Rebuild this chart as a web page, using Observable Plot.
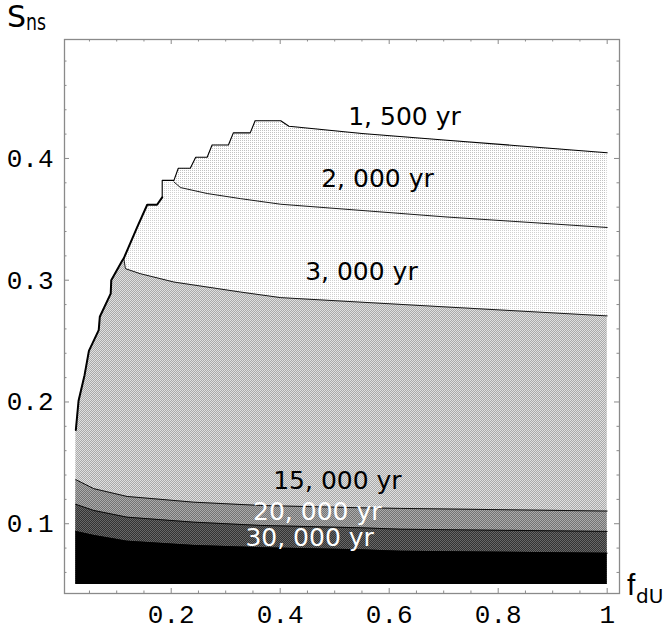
<!DOCTYPE html>
<html><head><meta charset="utf-8">
<script src="https://cdn.jsdelivr.net/npm/d3@7"></script>
<script src="https://cdn.jsdelivr.net/npm/@observablehq/plot@0.6"></script>
<style>body{margin:0;background:#fff}</style>
</head><body><div id="chart"></div>
<script>
// ---- data (f_dU, S_ns) ----
const xMin = 0.025, xMax = 1, yMin = 0.05;
// left edge of the computed region, bottom to top (incl. staircase)
const boundary = [
  [0.025, 0.177], [0.030, 0.201], [0.041, 0.222], [0.049, 0.242],
  [0.067, 0.259], [0.069, 0.270], [0.089, 0.289], [0.090, 0.300],
  [0.110, 0.316], [0.113, 0.318], [0.138, 0.344], [0.156, 0.362],
  [0.174, 0.362], [0.1835, 0.368], [0.1835, 0.382], [0.205, 0.382],
  [0.213, 0.392], [0.235, 0.392], [0.245, 0.401], [0.266, 0.401],
  [0.275, 0.411], [0.305, 0.411], [0.314, 0.421], [0.345, 0.421],
  [0.354, 0.431], [0.401, 0.431]
];
const c1500 = [[0.401, 0.431], [0.416, 0.4265], [0.55, 0.4205], [0.706, 0.415], [1.0, 0.4047]];
const c2000 = [[0.205, 0.3807], [0.217, 0.3761], [0.266, 0.3712], [0.327, 0.367], [0.401, 0.3624], [0.706, 0.3519], [1.0, 0.3433]];
const c3000 = [[0.113, 0.318], [0.116, 0.3095], [0.143, 0.3054], [0.205, 0.2985], [0.327, 0.2903], [0.401, 0.2857], [0.706, 0.278], [1.0, 0.2707]];
const c15000 = [[0.025, 0.1362], [0.058, 0.1288], [0.119, 0.1224], [0.2415, 0.1177], [0.364, 0.115], [0.547, 0.1131], [0.621, 0.1126], [1.0, 0.1104]];
const c20000 = [[0.025, 0.1159], [0.058, 0.1109], [0.119, 0.1054], [0.2415, 0.1013], [0.364, 0.0986], [0.547, 0.0967], [0.621, 0.0955], [1.0, 0.0937]];
const c30000 = [[0.025, 0.0937], [0.058, 0.0904], [0.119, 0.0857], [0.2415, 0.0822], [0.364, 0.0803], [0.547, 0.0786], [0.621, 0.0774], [1.0, 0.0758]];

const labelText = ["1, 500 yr", "2, 000 yr", "3, 000 yr", "15, 000 yr", "20, 000 yr", "30, 000 yr"];
const labelX = [0.628, 0.5785, 0.549, 0.505, 0.468, 0.454];
const labelY = [0.434, 0.383, 0.307, 0.135, 0.110, 0.0885];
const labelColor = ["black", "black", "black", "black", "white", "white"];

const xMajor = [0.2, 0.4, 0.6, 0.8, 1];
const xTickLabels = ["0.2", "0.4", "0.6", "0.8", "1"];
const xMinor = d3.range(1, 21).map(i => i * 0.05).filter(v => !xMajor.some(m => Math.abs(m - v) < 1e-9));
const yMajor = [0.1, 0.2, 0.3, 0.4];
const yTickLabels = ["0.1", "0.2", "0.3", "0.4"];
const yMinor = d3.range(3, 25).map(i => i * 0.02).filter(v => !yMajor.some(m => Math.abs(m - v) < 1e-9));

// ---- band outlines (built from the arrays above) ----
const idx2000 = boundary.findIndex(p => p[0] === 0.1835 && p[1] === 0.382);
const idx3000 = boundary.findIndex(p => p[0] === 0.113 && p[1] === 0.318);
const outer = boundary.concat(c1500.slice(1));
const ext2000 = boundary.slice(0, idx2000 + 1).concat(c2000);
const ext3000 = boundary.slice(0, idx3000 + 1).concat(c3000.slice(1));
const lowerBoundary = boundary.slice(0, boundary.findIndex(p => p[1] === 0.368) + 1);
const stairs = boundary.slice(boundary.findIndex(p => p[1] === 0.368)).concat(c1500.slice(1));

// solid fill = average tone of each halftone band; pattern = its dither
const bands = [
  {curve: outer,   fill: "#efefef", pat: "pA", a: "#ffffff", b: "#c2c2c2"},
  {curve: ext2000, fill: "#f3f3f3", pat: "pB", a: "#ffffff", b: "#d0d0d0"},
  {curve: ext3000, fill: "#c5c5c5", pat: "pC", a: "#aaaaaa", b: "#e0e0e0"},
  {curve: c15000,  fill: "#8f8f8f", pat: "pD", a: "#737373", b: "#ababab"},
  {curve: c20000,  fill: "#4d4d4d", pat: "pE", a: "#333333", b: "#676767"},
  {curve: c30000,  fill: "#000000", pat: null}
];

const X = d => d[0], Y = d => d[1];
const tickColor = "#8a8a8a";
const innerW = 665 - 64 - 46, innerH = 635 - 39 - 42;

const chart = Plot.plot({
  width: 665, height: 635,
  marginLeft: 64, marginRight: 46, marginTop: 39, marginBottom: 42,
  x: {domain: [0.0042, 1.0226], axis: null},
  y: {domain: [0.0427, 0.4977], axis: null},
  style: {background: "white"},
  marks: [
    ...bands.map(b => Plot.areaY(b.curve, {x: X, y1: yMin, y2: Y, fill: b.fill, curve: "linear"})),
    ...[c2000, c3000, c15000, c20000, c30000].map(c => Plot.line(c, {x: X, y: Y, stroke: "black", strokeWidth: 0.9})),
    Plot.line(stairs, {x: X, y: Y, stroke: "black", strokeWidth: 1.1}),
    Plot.line(lowerBoundary, {x: X, y: Y, stroke: "black", strokeWidth: 2}),
    Plot.text(labelText, {x: (d, i) => labelX[i], y: (d, i) => labelY[i], text: d => d,
      fill: (d, i) => labelColor[i], fontFamily: "DejaVu Sans", fontSize: 25}),
    Plot.frame({stroke: tickColor, strokeWidth: 1.3}),
    // ticks, pointing inward on all four sides
    Plot.ruleX(xMajor, {x: d => d, insetTop: innerH - 5, stroke: tickColor}),
    Plot.ruleX(xMinor, {x: d => d, insetTop: innerH - 2.5, stroke: tickColor}),
    Plot.ruleX(xMajor, {x: d => d, insetBottom: innerH - 5, stroke: tickColor}),
    Plot.ruleX(xMinor, {x: d => d, insetBottom: innerH - 2.5, stroke: tickColor}),
    Plot.ruleY(yMajor, {y: d => d, insetRight: innerW - 5, stroke: tickColor}),
    Plot.ruleY(yMinor, {y: d => d, insetRight: innerW - 2.5, stroke: tickColor}),
    Plot.ruleY(yMajor, {y: d => d, insetLeft: innerW - 5, stroke: tickColor}),
    Plot.ruleY(yMinor, {y: d => d, insetLeft: innerW - 2.5, stroke: tickColor}),
    Plot.text(xMajor, {x: d => d, text: (d, i) => xTickLabels[i], frameAnchor: "bottom", dy: 29,
      lineAnchor: "bottom", fontFamily: "Liberation Mono", fontSize: 26, fill: "black"}),
    Plot.text(yMajor, {y: d => d, text: (d, i) => yTickLabels[i], frameAnchor: "left", dx: -11,
      textAnchor: "end", fontFamily: "Liberation Mono", fontSize: 26, fill: "black"})
  ]
});

const svg = d3.select(chart);

// halftone-like dither patterns for the shaded bands
const defs = svg.insert("defs", ":first-child");
bands.filter(b => b.pat).forEach(b => {
  const p = defs.append("pattern").attr("id", b.pat).attr("patternUnits", "userSpaceOnUse")
    .attr("x", 0).attr("y", 0).attr("width", 2).attr("height", 2);
  p.append("rect").attr("width", 2).attr("height", 2).attr("fill", b.a);
  p.append("rect").attr("width", 1).attr("height", 1).attr("fill", b.b);
  if (!(b.pat === "pA" || b.pat === "pB")) {
    p.append("rect").attr("x", 1).attr("y", 1).attr("width", 1).attr("height", 1).attr("fill", b.b);
  }
  svg.selectAll(`g[fill="${b.fill}"], path[fill="${b.fill}"]`).attr("fill", `url(#${b.pat})`);
});

// axis titles with subscripts
const title = (x, y, size, txt, len, fam = "DejaVu Sans") => {
  const t = svg.append("text").attr("x", x).attr("y", y).attr("text-anchor", "start")
    .attr("font-family", fam).attr("font-size", size).attr("fill", "black").text(txt);
  if (len) t.attr("textLength", len).attr("lengthAdjust", "spacingAndGlyphs");
};
title(7, 27, 30, "S");
title(26, 30, 23, "ns", 20);
title(627, 595, 30, "f", null, "Liberation Sans");
title(636, 603, 20, "dU");

document.getElementById("chart").appendChild(chart);
</script>
</body></html>
